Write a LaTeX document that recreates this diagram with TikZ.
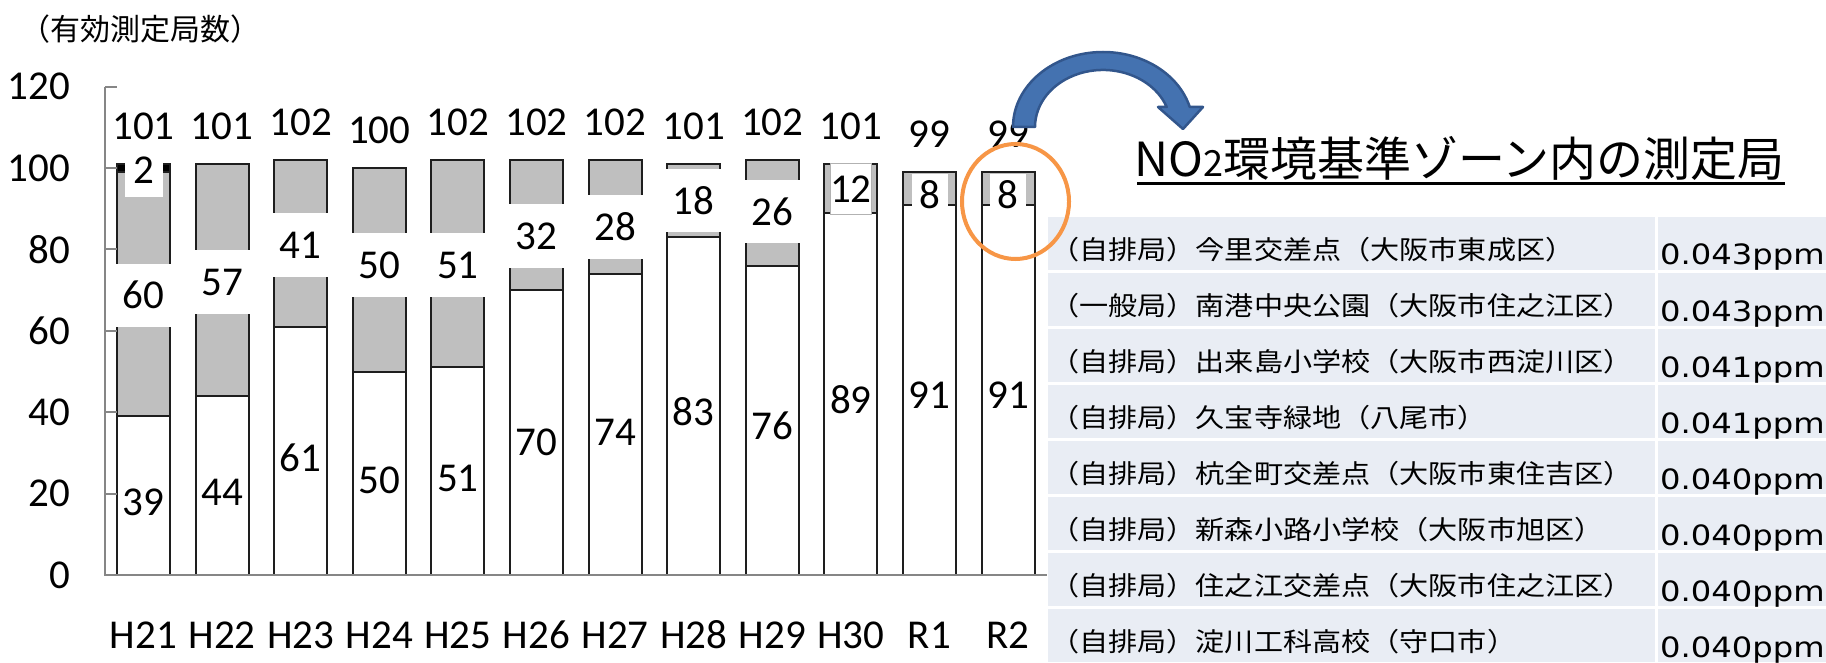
\documentclass[tikz,border=0pt]{standalone}
\usepackage{fontspec}
\setmainfont{Carlito}
\newfontfamily\jp{Noto Sans CJK JP}
\newfontfamily\jptab[FakeStretch=1.12]{Noto Sans CJK JP}
\newfontfamily\dvw[FakeStretch=1.15]{DejaVu Sans}
\usetikzlibrary{calc}
\definecolor{barfill}{RGB}{191,191,191}
\definecolor{rowfill}{RGB}{233,237,244}
\definecolor{ringc}{RGB}{247,150,70}
\definecolor{arrf}{RGB}{68,114,176}
\definecolor{arrd}{RGB}{50,86,140}
\definecolor{axisc}{RGB}{134,134,134}
\definecolor{edgec}{RGB}{30,30,30}
\begin{document}
\begin{tikzpicture}[x=1pt,y=-1pt,
  seg/.style={draw=edgec, line width=2pt},
  num/.style={font=\fontsize{41}{41}\selectfont, inner sep=0pt},
  gbox/.style={num, fill=white, minimum width=58pt, minimum height=63pt},
  sbox/.style={num, fill=white, minimum width=36pt, minimum height=41pt},
  rowtxt/.style={anchor=base west, inner sep=0pt, font=\jptab\fontsize{26}{26}\selectfont},
  valtxt/.style={anchor=base west, inner sep=0pt, font=\dvw\fontsize{28}{28}\selectfont},
  ring/.style={draw=ringc, line width=4pt},
  bigarrow/.style={fill=arrf, draw=arrd, line width=2.5pt, line join=round}]
\useasboundingbox (0,0) rectangle (1826,663);
\fill[white] (0,0) rectangle (1826,663);

% axis label
\node[anchor=base west, inner sep=0pt, font=\jp\fontsize{30}{30}\selectfont] (ylab) at (20,41) {（有効測定局数）};

% bars
\foreach \i/\a/\b/\t/\ya/\lab in {
  0/39/60/101/502/H21, 1/44/57/101/492/H22, 2/61/41/102/458/H23,
  3/50/50/100/480/H24, 4/51/51/102/478/H25, 5/70/32/102/442/H26,
  6/74/28/102/432/H27, 7/83/18/101/412/H28, 8/76/26/102/426/H29,
  9/89/12/101/400/H30, 10/91/8/99/395/R1, 11/91/8/99/395/R2}{
  \pgfmathsetmacro{\L}{117+78.6*\i}
  \pgfmathsetmacro{\R}{\L+53}
  \pgfmathsetmacro{\C}{\L+26.5}
  \pgfmathsetmacro{\yA}{575-4.07*\a}
  \pgfmathsetmacro{\yB}{575-4.07*(\a+\b)}
  \pgfmathsetmacro{\yT}{575-4.07*\t-38}
  \filldraw[seg, fill=white] (\L,575) rectangle (\R,\yA);
  \filldraw[seg, fill=barfill] (\L,\yA) rectangle (\R,\yB);
  \node[num] (lo\i) at (\C,\ya) {\a};
  \node[num] (tot\i) at (\C,\yT) {\t};
  \node[num] (xl\i) at (\C,635) {\lab};
}
% small exceeding segment of H21
\filldraw[seg, fill=black] (117,172.07) rectangle (170,163.93);

% labels of the grey segments
\node[gbox] (hi0) at (143.5,295) {60};
\node[gbox] (hi1) at (222.1,282) {57};
\node[gbox] (hi2) at (300.7,245) {41};
\node[gbox] (hi3) at (379.3,265) {50};
\node[gbox] (hi4) at (457.9,265) {51};
\node[gbox] (hi5) at (536.5,236) {32};
\node[gbox] (hi6) at (615.1,227) {28};
\node[gbox] (hi7) at (693.7,201) {18};
\node[gbox] (hi8) at (772.3,212) {26};
\node[num, fill=white, draw=gray!60, line width=1pt, minimum width=38pt, minimum height=51pt] (hi9) at (850.9,189) {12};
\node[sbox] (hi10) at (929.5,194.5) {8};
\node[sbox] (hi11) at (1008.1,194.5) {8};
\node[num, fill=white, minimum width=38pt, minimum height=54pt] (top0) at (143.5,170) {2};

% axes
\draw[axisc, line width=2pt] (105,86.6) -- (105,575) -- (1047,575);
\foreach \v in {0,20,...,120}{
  \pgfmathsetmacro{\yy}{575-4.07*\v}
  \draw[axisc, line width=2pt] (105,\yy) -- (117,\yy);
  \node[num, anchor=east] (yl\v) at (70,\yy) {\v};
}

% table
\foreach \k/\txt/\val in {
  0/{（自排局）今里交差点（大阪市東成区）}/0.043ppm,
  1/{（一般局）南港中央公園（大阪市住之江区）}/0.043ppm,
  2/{（自排局）出来島小学校（大阪市西淀川区）}/0.041ppm,
  3/{（自排局）久宝寺緑地（八尾市）}/0.041ppm,
  4/{（自排局）杭全町交差点（大阪市東住吉区）}/0.040ppm,
  5/{（自排局）新森小路小学校（大阪市旭区）}/0.040ppm,
  6/{（自排局）住之江交差点（大阪市住之江区）}/0.040ppm,
  7/{（自排局）淀川工科高校（守口市）}/0.040ppm}{
  \pgfmathsetmacro{\T}{217+56*\k}
  \fill[rowfill] (1048,\T) rectangle (1655,\T+53);
  \fill[rowfill] (1658,\T) rectangle (1826,\T+53);
  \node[rowtxt] (st\k) at (1050,\T+42) {\txt};
  \node[valtxt] (vl\k) at (1660,\T+48) {\val};
}

% title
\node[anchor=base west, inner sep=0pt, font=\jp\fontsize{47}{47}\selectfont] (ttl) at (1134,177)
  {NO{\fontsize{36}{36}\selectfont 2}環境基準ゾーン内の測定局};
\draw[line width=3pt] ($(ttl.base west)+(3,7)$) -- ($(ttl.base east)+(0,7)$);

% curved arrow
\filldraw[bigarrow] (1013,127) arc[start angle=180, end angle=344.5, x radius=90, y radius=75]
  -- (1203,107) -- (1183,129) -- (1158,107) -- (1166.7,107)
  arc[start angle=339.5, end angle=180, x radius=68, y radius=57] -- cycle;

% ring
\draw[ring] (1015.5,201.5) ellipse [x radius=53.5, y radius=57.5];
\end{tikzpicture}
\end{document}
